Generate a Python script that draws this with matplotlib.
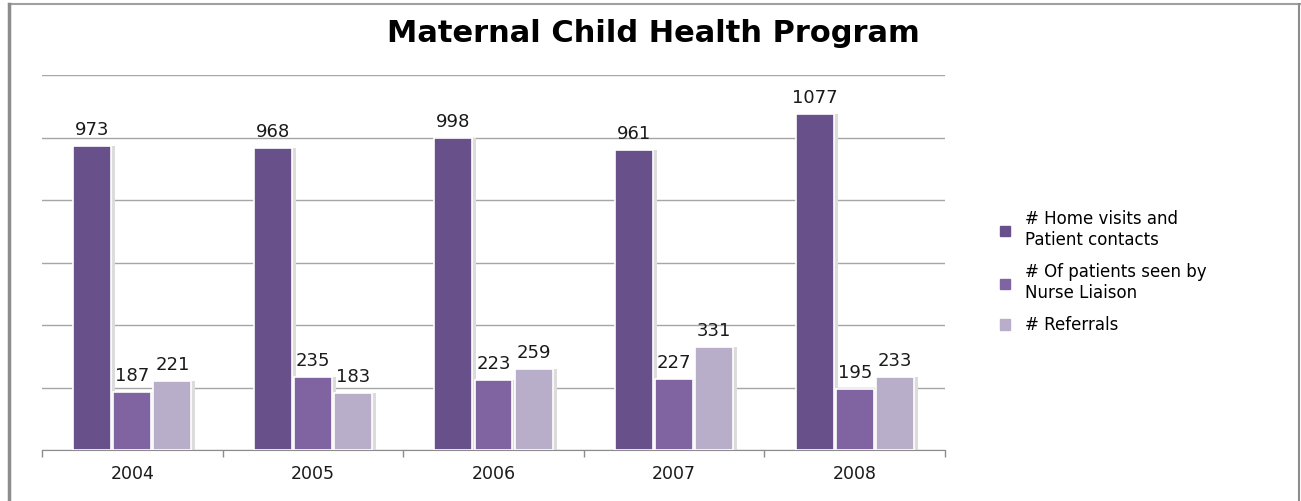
import numpy as np
import matplotlib.pyplot as plt
from matplotlib.lines import Line2D

years = ['2004', '2005', '2006', '2007', '2008']
home_visits = [973, 968, 998, 961, 1077]
nurse_liaison = [187, 235, 223, 227, 195]
referrals = [221, 183, 259, 331, 233]

series_names = ['# Home visits and\nPatient contacts',
                '# Of patients seen by\nNurse Liaison',
                '# Referrals']
colors = ['#68518A', '#8064A2', '#B8AECA']

fig = plt.figure(figsize=(13.01, 5.01), dpi=100)
ax = fig.add_axes([0.0323, 0.1018, 0.6941, 0.748])

x = np.arange(len(years))
width = 0.21
offsets = [-0.222, 0.0, 0.222]
all_series = [home_visits, nurse_liaison, referrals]

for vals, off, col, name in zip(all_series, offsets, colors, series_names):
    # faint shadow behind each bar
    ax.bar(x + off + 0.012, vals, width + 0.02, color='#dcdcdc', zorder=2)
    bars = ax.bar(x + off, vals, width, color=col, edgecolor='white',
                  linewidth=1.2, label=name, zorder=3)
    for b, v in zip(bars, vals):
        ax.annotate(str(v), (b.get_x() + b.get_width() / 2, v),
                    xytext=(0, 5), textcoords='offset points',
                    ha='center', va='bottom', fontsize=13,
                    color='#1a1a1a', zorder=5)

ax.set_xlim(-0.5, len(years) - 0.5)
ax.set_ylim(0, 1200)
ax.set_yticks(np.arange(0, 1201, 200))
ax.yaxis.grid(True, color='#a6a6a6', linewidth=1.0)
ax.set_axisbelow(True)
ax.tick_params(axis='y', left=False, labelleft=False)

ax.set_xticks(x)
ax.set_xticklabels(years, fontsize=12.5, color='#1a1a1a')
ax.set_xticks(np.arange(-0.5, len(years)), minor=True)
ax.tick_params(axis='x', which='major', length=0, pad=11)
ax.tick_params(axis='x', which='minor', length=5, color='#8c8c8c', width=1)

for s in ['top', 'right', 'left']:
    ax.spines[s].set_visible(False)
ax.spines['bottom'].set_color('#8c8c8c')

handles = [plt.Rectangle((0, 0), 1, 1, color=c) for c in colors]
fig.legend(handles, series_names, loc='upper left',
           bbox_to_anchor=(0.757, 0.610), frameon=False, fontsize=12,
           handlelength=0.6, handleheight=0.6, handletextpad=0.9,
           labelspacing=0.85)

fig.text(0.502, 0.934, 'Maternal Child Health Program', ha='center',
         va='center', fontsize=22, fontweight='bold', color='black')

# outer chart frame
fig.add_artist(Line2D([0.007, 0.9995], [0.992, 0.992], color='#a0a0a0', lw=1.5))
fig.add_artist(Line2D([0.0072, 0.0072], [0.0, 0.992], color='#8c8c8c', lw=2.5))
fig.add_artist(Line2D([0.9988, 0.9988], [0.0, 0.992], color='#8c8c8c', lw=1.5))

plt.savefig('out.png', dpi=100)
